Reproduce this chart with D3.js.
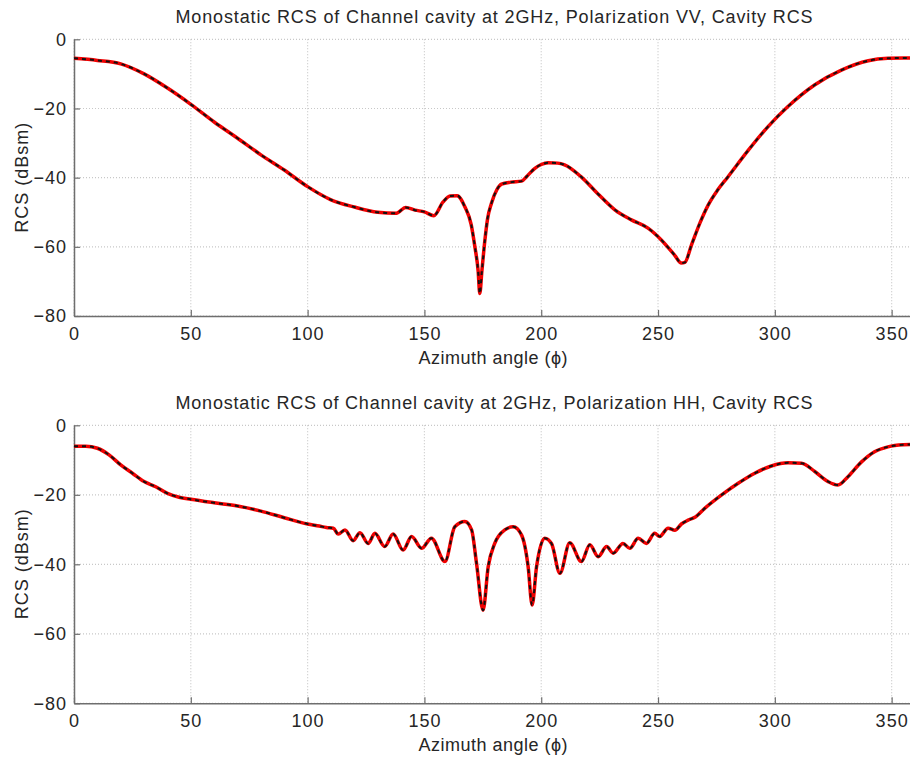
<!DOCTYPE html>
<html>
<head>
  <meta charset="utf-8">
  <title>Monostatic RCS of Channel cavity</title>
  <script src="https://d3js.org/d3.v7.min.js"></script>
  <style>
    body { margin: 0; background: #fff; }
    text { font-family: "Liberation Sans", Arial, sans-serif; fill: #262626; }
  </style>
</head>
<body>
  <script>

	// VV polarization, azimuth (deg) and RCS (dBsm)
	var vvAngle = [0, 10, 20, 30, 40, 50, 60, 70, 80, 90, 100, 110, 120, 130, 138, 142, 146, 150, 154,
	               158, 161, 164, 167.3, 170, 171.6, 173, 173.7, 174.6, 175.9, 177, 178.7, 181, 183, 187, 191.6,
	               194, 197.3, 200, 203, 207, 210, 217, 224, 231.5, 238.6, 245.7, 251.4, 257, 260, 261.5,
	               264.3, 268, 271.4, 275.5, 279.9, 288.5, 297, 305.5, 317, 328.5, 340, 348.4, 355, 360];
	var vvRcs   = [-5.5, -6.1, -7.1, -10, -14.1, -18.8, -23.9, -28.6, -33.4, -37.8, -42.6, -46.4, -48.5, -50, -50.3, -48.6, -49.4, -49.9, -51,
	               -47, -45.3, -45.2, -48.4, -53.5, -60, -67, -73.5, -67, -58, -52, -47.4, -43.5, -41.9, -41.3, -41,
	               -39.5, -37.3, -36.2, -35.7, -35.8, -36.3, -39.7, -44.5, -49.3, -52.2, -54.6, -58, -62.3, -64.7, -64.5,
	               -59.5, -53, -48, -43.6, -39.8, -32.2, -25.3, -19.5, -13.2, -8.9, -6.2, -5.5, -5.4, -5.5];

	// HH polarization
	var hhAngle = [0, 5, 10, 15, 20, 25, 30, 35, 40, 45, 50, 60, 70, 80, 90, 100, 105, 108,
	               111, 113.1, 116, 119.5, 122.4, 125.9, 128.8, 133, 136.6, 140.9, 144.5, 148.8, 153, 158.8,
	               163, 167.3, 170.2, 172.3, 175.1, 177.3, 180.1, 184.4, 188, 191.6, 194.4, 196.1, 198,
	               201.5, 204.4, 208, 212.2, 217.2, 220.8, 224.4, 228, 230.8, 235, 237.9, 241.5, 245,
	               248.6, 250.7, 254.3, 257.2, 260, 262.9, 266, 270, 277.1, 284.3, 291.4, 298.5, 305.7,
	               311.4, 317.1, 322.8, 327, 331.3, 337, 342.7, 348.4, 355, 360];
	var hhRcs   = [-6, -6, -6.6, -8.5, -11.4, -13.8, -16.2, -17.7, -19.6, -20.7, -21.3, -22.3, -23.2, -24.7, -26.6, -28.4, -29, -29.4,
	               -29.6, -31.3, -30.1, -33.2, -30.9, -34, -31.1, -34.9, -31.3, -35.9, -32, -35.4, -32.5, -39.2,
	               -29.2, -27.7, -30.1, -39.7, -53.2, -40.7, -34, -30.1, -29.2, -31.6, -40.7, -51.7, -40.7,
	               -32.5, -34, -42.6, -33.8, -39.2, -34.4, -37.8, -34.9, -36.8, -34, -35.4, -32.5, -34,
	               -31.1, -32, -29.6, -30.2, -28.4, -27.3, -26.4, -23.9, -20.1, -16.7, -13.8, -11.7, -10.8,
	               -10.9, -13.3, -16.2, -17.2, -14.8, -10.6, -7.6, -6.2, -5.6, -5.5];

	var xTicks = [0, 50, 100, 150, 200, 250, 300, 350];
	var yTicks = [0, -20, -40, -60, -80];
	var titles = ['Monostatic RCS of Channel cavity at 2GHz, Polarization VV, Cavity RCS',
	              'Monostatic RCS of Channel cavity at 2GHz, Polarization HH, Cavity RCS'];

	var svg = d3.select('body')
	            .append('svg')
	              .attr('width', 910)
	              .attr('height', 758);

	var x = d3.scaleLinear().domain([0, 360]).range([74, 915]);

	function drawPanel(top, bottom, title, angles, values){
	    var y = d3.scaleLinear().domain([-80, 0]).range([bottom, top]);
	    var g = svg.append('g');

	    // dotted grid
	    g.selectAll('.gx').data(xTicks).enter()
	      .append('line')
	      .attr('x1', function(d){ return x(d); })
	      .attr('x2', function(d){ return x(d); })
	      .attr('y1', top).attr('y2', bottom)
	      .attr('stroke', '#c8c8c8')
	      .attr('stroke-width', 1.2)
	      .attr('stroke-dasharray', '1,2');
	    g.selectAll('.gy').data(yTicks).enter()
	      .append('line')
	      .attr('x1', x(0)).attr('x2', x(360))
	      .attr('y1', function(d){ return y(d); })
	      .attr('y2', function(d){ return y(d); })
	      .attr('stroke', '#c8c8c8')
	      .attr('stroke-width', 1.2)
	      .attr('stroke-dasharray', '1,2');

	    // axes, inward ticks
	    var xAxis = g.append('g')
	      .attr('transform', 'translate(0,' + bottom + ')')
	      .call(d3.axisBottom(x).tickValues(xTicks).tickSizeInner(-6).tickSizeOuter(0).tickPadding(11));
	    var yAxis = g.append('g')
	      .attr('transform', 'translate(' + x(0) + ',0)')
	      .call(d3.axisLeft(y).tickValues(yTicks).tickSizeInner(-6).tickSizeOuter(0).tickPadding(7));
	    [xAxis, yAxis].forEach(function(a){
	      a.select('.domain').attr('stroke', '#6e6e6e').attr('stroke-width', 1.5);
	      a.selectAll('.tick line').attr('stroke', '#6e6e6e').attr('stroke-width', 1.2);
	      a.selectAll('text').style('font-size', '18px').style('fill', '#262626')
	        .style('letter-spacing', '1px')
	        .style('font-family', '"Liberation Sans", Arial, sans-serif');
	    });

	    var line = d3.line()
	      .x(function(d){ return x(d[0]); })
	      .y(function(d){ return y(d[1]); })
	      .curve(d3.curveMonotoneX);
	    var pts = d3.zip(angles, values);

	    g.append('path').datum(pts)
	      .attr('d', line)
	      .attr('fill', 'none')
	      .attr('stroke', '#f00000')
	      .attr('stroke-width', 3.5);
	    g.append('path').datum(pts)
	      .attr('d', line)
	      .attr('fill', 'none')
	      .attr('stroke', '#111')
	      .attr('stroke-width', 2)
	      .attr('stroke-dasharray', '4,4');

	    g.append('text')
	      .attr('x', 494).attr('y', top - 16)
	      .attr('text-anchor', 'middle')
	      .attr('textLength', 637)
	      .attr('lengthAdjust', 'spacing')
	      .style('font-size', '18px')
	      .text(title);
	    g.append('text')
	      .attr('x', 493).attr('y', bottom + 48)
	      .attr('text-anchor', 'middle')
	      .attr('textLength', 149)
	      .attr('lengthAdjust', 'spacing')
	      .style('font-size', '18px')
	      .text('Azimuth angle (\u03d5)');
	    g.append('text')
	      .attr('transform', 'translate(28,' + (top + bottom) / 2 + ') rotate(-90)')
	      .attr('text-anchor', 'middle')
	      .attr('textLength', 110)
	      .attr('lengthAdjust', 'spacing')
	      .style('font-size', '18px')
	      .text('RCS (dBsm)');
	}

	drawPanel(39.3, 316, titles[0], vvAngle, vvRcs);
	drawPanel(425.3, 703.3, titles[1], hhAngle, hhRcs);

  </script>
</body>
</html>
